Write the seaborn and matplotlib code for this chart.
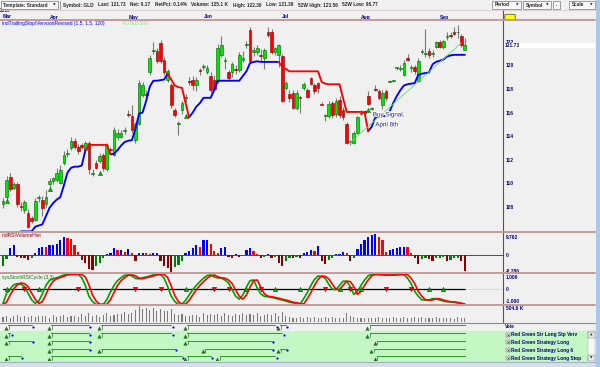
import numpy as np
import pandas as pd
import matplotlib
matplotlib.use("Agg")
import matplotlib.pyplot as plt
import matplotlib.transforms as mtrans
import matplotlib.patheffects as pe
from matplotlib.patches import Rectangle, FancyBboxPatch
from matplotlib.lines import Line2D
import seaborn as sns

sns.set_style("white")
FONT = ['Liberation Sans', 'DejaVu Sans']
plt.rcParams['font.family'] = FONT

# --- datos ---
open_ = [108.2,108.8,110.5,109.6,109.9,108.1,107.7,107.5,107.0,106.9,
         108.7,108.6,108.2,109.9,110.2,110.3,110.0,111.7,112.5,113.0,
         113.6,113.1,113.2,112.8,113.4,110.8,111.7,111.9,112.4,111.2,
         112.9,112.4,113.9,113.9,114.4,115.9,115.7,113.7,115.0,117.5,
         117.6,119.4,121.2,121.2,121.9,120.5,118.8,118.3,116.2,115.0,
         116.2,117.2,118.7,118.8,118.3,119.6,119.9,119.4,119.1,118.8,
         118.7,120.9,120.4,119.4,119.4,119.7,119.6,120.5,121.7,123.0,
         121.1,121.1,120.9,120.6,122.8,122.8,121.1,120.9,120.8,118.1,
         117.6,117.7,116.4,117.3,118.1,117.9,118.9,118.3,118.5,116.7,
         115.7,115.7,116.8,115.9,117.1,116.2,115.0,113.5,113.4,114.3,
         115.9,116.1,117.4,116.3,118.0,117.8,116.6,117.8,118.6,118.7,
         119.8,119.7,119.2,120.6,119.8,119.9,118.7,121.1,121.0,121.2,
         121.0,121.6,122.0,121.6,122.4,122.6,122.8,122.8,122.5,121.3]
high = [108.7,110.6,110.9,110.1,110.1,108.4,108.6,107.8,107.2,108.7,
        109.0,108.9,109.4,110.4,110.5,111.3,111.5,112.7,112.9,113.9,
        113.8,113.3,113.4,113.6,113.6,111.2,112.0,112.6,112.6,113.4,
        113.1,114.8,114.6,114.5,114.8,116.2,116.6,115.2,118.8,118.6,
        117.9,120.9,122.0,121.5,122.2,120.7,119.7,118.5,116.4,115.3,
        117.0,117.6,119.0,119.1,119.0,119.8,120.1,120.0,119.4,119.2,
        121.8,122.5,120.7,119.6,120.3,120.0,121.1,121.2,122.1,123.3,
        121.6,121.7,121.4,121.5,123.3,123.1,121.6,121.8,121.0,118.7,
        117.9,117.9,117.9,117.4,118.6,118.1,119.0,118.5,118.6,116.9,
        115.9,117.0,117.0,117.2,117.4,116.5,115.2,113.7,114.4,115.7,
        116.2,116.2,117.8,116.5,118.3,118.0,117.9,118.0,118.8,118.8,
        119.9,120.0,120.5,121.0,120.0,120.0,120.6,121.4,123.1,121.5,
        121.3,122.1,122.2,122.2,122.8,122.8,123.3,123.4,122.7,122.3]
low = [107.9,108.6,109.3,109.4,108.0,107.6,107.5,106.2,106.6,106.8,
       108.4,107.2,108.0,109.7,109.9,110.1,109.9,111.5,112.2,112.8,
       112.9,112.5,112.9,112.6,110.8,110.6,111.2,111.7,111.0,111.0,
       112.6,112.3,113.7,113.8,114.2,115.6,114.3,113.4,114.9,117.3,
       117.0,119.2,121.0,120.2,120.2,119.2,118.6,116.4,115.6,114.1,
       115.9,116.9,118.3,117.9,117.8,119.2,119.6,119.3,117.7,117.8,
       118.5,120.7,119.7,118.7,119.0,119.3,119.4,120.3,121.5,120.2,
       120.8,120.9,120.3,119.7,122.4,121.0,120.9,119.9,116.9,117.9,
       116.9,116.3,116.2,116.0,117.9,117.2,118.3,117.6,117.7,116.6,
       115.3,115.5,115.5,115.6,115.5,115.4,113.3,113.2,113.3,114.2,
       115.8,115.8,116.6,116.2,117.8,117.1,116.3,117.0,118.6,118.6,
       119.6,119.5,119.1,120.4,119.4,119.3,118.6,121.0,120.7,120.6,
       120.7,121.5,121.5,121.4,122.2,122.3,122.6,122.3,121.6,121.39]
close = [108.5,110.3,109.5,109.9,108.2,108.0,108.4,106.3,106.8,108.5,
         108.8,107.9,108.8,110.2,110.4,110.9,111.1,112.4,112.6,113.6,
         113.1,112.7,113.1,113.4,111.2,110.9,111.3,112.3,111.3,113.2,
         112.8,114.5,114.3,114.3,114.5,115.8,114.5,115.0,118.5,118.3,
         117.5,120.6,121.3,120.4,120.4,119.4,119.5,116.6,115.8,115.1,
         116.8,117.3,118.6,118.3,118.8,119.5,119.9,119.8,117.9,118.0,
         121.5,121.7,120.5,118.9,120.1,119.6,120.9,120.6,121.8,120.4,
         121.3,121.5,120.8,121.3,122.6,121.1,121.5,121.7,117.0,118.5,
         117.2,116.4,117.7,117.2,118.4,117.3,118.4,117.8,118.1,116.6,
         115.8,116.7,115.8,117.0,115.8,115.6,113.4,113.6,114.3,115.6,
         116.0,116.0,116.7,116.4,117.9,117.2,117.7,117.2,118.7,118.7,
         119.8,119.8,120.2,120.5,119.8,119.5,120.4,121.2,121.0,120.9,
         121.0,122.0,121.6,122.1,122.4,122.5,122.7,122.8,121.7,121.73]

# trailing stop (L = largo/azul, S = corto/rojo)
stop = ([np.nan] * 5 +
        [105.9,105.9,105.9,105.9,106.3,106.4,106.5,107.2,107.9,108.3,108.6,108.8,109.8,110.9,111.3,111.4,111.4,111.5,112.8] +
        [113.25] * 6 + [112.45] +
        [112.5,112.8,113.2,113.5,113.6,113.65,114.6,115.9,116.0,117.0,118.2,118.7,118.7,118.75,118.8,119.3] +
        [118.8,118.3,118.15,118.1,116.8,115.6] +
        [116.0,116.5,116.8,117.25,117.25,117.25,117.9] + [118.7] * 7 + [119.1,119.5,120.2,120.3,120.35] + [120.3] * 6 +
        [119.9,119.7] + [119.5] * 9 + [118.6,118.45] + [118.4] * 4 + [117.2] + [116.05] * 5 + [116.0,114.4] +
        [114.8,115.6,115.65,115.7,115.7,116.1,116.8,117.4,117.9,118.3,118.4,118.45,118.5,119.2,119.3,119.35,119.4,
         120.1,120.3,120.4,120.5,120.75,120.85,120.9,120.9,120.9,120.9])
stop_side = "L" * 24 + "S" * 7 + "L" * 16 + "S" * 6 + "L" * 25 + "S" * 25 + "L" * 27

signal_bars = [1, 13, 27, 51, 102]
signal_price = [108.5, 109.5, 110.9, 115.7, 116.2]
trend_bars = [97, 128]
trend_price = [113.45, 121.9]

rsi_hist = [-6.0,-2.0,3.7,5.1,-1.0,-1.4,-1.7,-2.6,-1.7,0.9,
            3.7,4.3,4.2,5.1,5.5,6.0,7.7,9.7,8.9,8.5,
            5.1,1.7,-2.6,-4.3,-7.7,-7.9,-6.0,-4.3,-1.7,0.3,
            1.0,3.7,2.6,2.8,1.7,3.1,0.9,-3.1,0.9,1.0,
            0.8,0.5,0.9,1.0,-3.1,-6.0,-6.8,-9.4,-6.5,-5.1,
            -3.1,0.9,2.1,3.7,5.1,4.3,7.7,7.8,6.0,2.1,
            0.9,3.7,4.3,-0.9,-1.7,0.6,-0.9,-0.5,2.6,3.7,
            2.1,0.6,-1.7,-0.9,0.4,-1.4,-0.9,-4.3,-6.0,-3.4,
            -1.4,-1.5,-0.9,-1.4,0.9,1.4,2.6,2.1,4.8,-3.4,
            -4.8,-2.6,-1.4,0.6,0.7,1.7,1.2,-3.1,-1.7,3.4,
            6.0,7.7,9.7,10.6,11.1,9.4,7.7,1.7,2.6,3.1,
            3.7,4.3,4.4,4.2,0.9,-1.7,-4.8,-2.1,-1.7,-1.9,
            -3.1,-1.7,-1.4,-0.9,-3.1,-2.5,-1.7,-1.4,-3.4,-8.3]

stoch_fast = [-1.2,-0.36,0.0,0.35,0.45,0.4,0.2,-0.35,-0.9,-1.19,
              -1.0,-0.4,0.3,0.72,0.85,0.94,1.05,1.17,1.22,1.22,
              1.22,1.22,0.95,0.3,-0.6,-1.05,-1.28,-1.28,-1.28,-0.9,
              -0.25,0.3,0.7,0.95,1.15,1.17,1.1,0.88,0.85,0.94,
              1.0,1.08,1.18,1.22,1.22,0.9,0.2,-0.6,-1.05,-1.28,
              -1.25,-0.95,-0.5,-0.05,0.3,0.61,0.9,1.12,1.17,1.0,
              0.92,0.9,0.75,0.5,-0.05,-0.6,-0.85,-0.5,0.15,0.7,
              0.75,0.1,-0.4,-0.62,-0.64,-0.7,-0.77,-0.85,-0.92,-1.0,
              -1.1,-1.15,-1.22,-1.25,-0.8,-0.3,0.3,0.8,1.08,1.05,
              0.89,0.4,-0.02,-0.05,0.3,0.65,0.65,0.2,-0.45,-0.2,
              0.3,0.75,1.1,1.22,1.22,1.2,1.18,1.17,1.15,1.17,
              1.2,1.22,1.2,0.9,0.45,-0.2,-0.6,-0.9,-0.93,-0.92,
              -0.8,-0.82,-0.92,-1.0,-1.06,-1.08,-1.1,-1.15,-1.22,-1.28]
stoch_slow = [-1.28,-1.1,-0.5,0.0,0.35,0.5,0.45,0.2,-0.35,-0.85,
              -1.2,-1.05,-0.45,0.2,0.65,0.85,0.95,1.05,1.18,1.22,
              1.22,1.22,1.22,1.0,0.35,-0.5,-1.0,-1.28,-1.28,-1.28,
              -0.9,-0.3,0.3,0.7,0.95,1.15,1.17,1.1,0.9,0.85,
              0.94,1.0,1.08,1.18,1.22,1.22,0.95,0.25,-0.55,-1.05,
              -1.28,-1.25,-0.95,-0.5,-0.05,0.3,0.6,0.9,1.1,1.17,
              1.02,0.93,0.9,0.75,0.45,-0.1,-0.6,-0.85,-0.5,0.15,
              0.7,0.75,0.15,-0.4,-0.6,-0.64,-0.7,-0.77,-0.85,-0.92,
              -1.0,-1.1,-1.15,-1.22,-1.25,-0.8,-0.3,0.3,0.8,1.08,
              1.05,0.85,0.4,-0.02,-0.05,0.3,0.65,0.62,0.2,-0.45,
              -0.2,0.3,0.75,1.1,1.22,1.22,1.2,1.18,1.17,1.15,
              1.17,1.2,1.22,1.2,0.9,0.45,-0.2,-0.6,-0.9,-0.93,
              -0.92,-0.8,-0.82,-0.92,-1.0,-1.06,-1.08,-1.12,-1.18,-1.25]
cross_up = [1, 10, 51, 68, 76, 83, 94, 100, 119, 123]
cross_down = [6, 21, 37, 44, 59, 63, 72, 90, 97, 107, 114]

volume_k = [180,220,150,200,260,170,210,190,230,170,
            200,230,210,160,260,190,210,240,180,200,
            220,170,280,200,330,200,250,180,240,330,
            220,260,300,280,370,300,330,420,560,480,
            520,430,520,390,470,410,380,470,300,250,
            280,220,200,260,250,190,330,270,300,250,
            290,230,330,270,210,290,240,330,250,300,
            270,330,220,260,280,240,310,200,360,230,
            170,150,150,170,150,190,150,170,150,140,
            180,150,170,160,130,150,330,200,170,160,
            150,140,160,130,150,170,150,160,140,180,
            160,150,170,140,160,190,150,180,160,140,
            150,170,130,160,150,140,120,170,150,160]

month_names = ["Mar", "Apr", "May", "Jun", "Jul", "Aug", "Sep"]
month_bars = [0, 13, 35, 56, 78, 100, 122]

vote_rows = ["Vote", "Red Green Str Long Stp Verv", "Red Green Strategy Long",
             "Red Green Strategy Long 6", "Red Green Strategy Long Stop"]
trades = [
    [(1, 8), (13, 24), (27, 47), (51, 76), (77, 79), (102, None)],
    [(1, 2), (13, 24), (27, 47), (51, 78), (102, None)],
    [(1, 8), (13, 24), (51, 75), (104, None)],
    [(13, 24), (27, 48), (56, 75), (77, 79), (103, None)],
    [(1, 5), (13, 50), (51, 58), (60, 76), (104, None)],
]

header_items = ["Symbol: GLD", "Last: 121.73", "Net: 0.17", "NetPct: 0.14%", "Volume: 125.1 K",
                "High: 122.30", "Low: 121.39", "52W High: 123.56", "52W Low: 96.77"]

# --- figura ---
W, H = 600, 367
BG = '#f0f0f0'
NAVY = '#000080'
SMALL = 3.4
fig = plt.figure(figsize=(6, 3.67), dpi=100, facecolor=BG)
renderer = fig.canvas.get_renderer()


def frac(x0, y0, x1, y1):
    return [x0 / W, 1 - y1 / H, (x1 - x0) / W, (y1 - y0) / H]


def bar_lim(px_right):
    return (-3 / 3.58, (px_right - 3) / 3.58)


def ftext(x, y, s, **kw):
    kw.setdefault('va', 'center')
    return fig.text(x / W, 1 - y / H, s, **kw)


def frect(x0, y0, x1, y1, **kw):
    fig.add_artist(Rectangle((x0 / W, 1 - y1 / H), (x1 - x0) / W, (y1 - y0) / H,
                             transform=fig.transFigure, **kw))


def fline(x0, y0, x1, y1, **kw):
    fig.add_artist(Line2D([x0 / W, x1 / W], [1 - y0 / H, 1 - y1 / H],
                          transform=fig.transFigure, **kw))


def right_ticks(ax, vals, labels):
    ax.yaxis.tick_right()
    ax.set_yticks(vals)
    ax.set_yticklabels(labels, fontweight='bold')
    ax.tick_params(axis='y', length=0, pad=2.0, labelsize=3.5, labelcolor=NAVY)


ax_h = fig.add_axes(frac(0, 10, 503, 20))
ax_p = fig.add_axes(frac(0, 20, 503, 232))
ax_r = fig.add_axes(frac(0, 232, 503, 273))
ax_s = fig.add_axes(frac(0, 273, 503, 305))
ax_v = fig.add_axes(frac(0, 305, 503, 322))
ax_vote = fig.add_axes(frac(0, 323, 588, 361))

bars = np.arange(len(close))
o, c = np.array(open_), np.array(close)

# velas
up = c >= o
ax_p.vlines(bars, low, high, color='#7a7a7a', lw=0.8, zorder=2)
ax_p.bar(bars, np.maximum(np.abs(c - o), 0.07), bottom=np.minimum(o, c), width=0.75,
         color=np.where(up, '#00e600', '#ff0000'), edgecolor=np.where(up, '#006000', '#800000'),
         linewidth=0.4, zorder=3)

# trailing stop, color según lado
sdf = pd.DataFrame({'bar': bars, 'stop': stop, 'side': list(stop_side)})
run = (sdf['side'] != sdf['side'].shift()).cumsum()
pieces = []
for r, g in sdf.groupby(run):
    first = g.index[0]
    if first > 0:
        g = pd.concat([sdf.loc[[first - 1]].assign(side=g['side'].iloc[0]), g])
    pieces.append(g.assign(run=r))
seg = pd.concat(pieces).dropna()
sns.lineplot(data=seg, x='bar', y='stop', hue='side', units='run', estimator=None,
             palette={'L': '#0000ff', 'S': '#ff0000'}, lw=1.35, legend=False, ax=ax_p, zorder=4)
sns.lineplot(x=trend_bars, y=trend_price, color='#66dd66', lw=0.6, ax=ax_p, zorder=4)
ax_p.plot(signal_bars, signal_price, '^', ms=3, color='#00b000', mec='#004000', mew=0.3, zorder=5)
halo = [pe.withStroke(linewidth=1.2, foreground='white')]
ax_p.text(103.3, 115.8, "Buy Signal,", fontsize=4.5, color='#1a1a80', va='center', path_effects=halo, zorder=6)
ax_p.text(104.0, 114.95, "April 8th", fontsize=4.5, color='#1a1a80', va='center', path_effects=halo, zorder=6)
ax_p.text(0.004, 0.983, "indTrailingStop/VervoortRevised (1.5, 1.5, 120)", transform=ax_p.transAxes,
          fontsize=3.5, color='#0000ff', va='center')
ax_p.text(122 / 503, 0.983, "VOTED SIG", transform=ax_p.transAxes, fontsize=3.5, color='#7fe07f', va='center')
ax_p.set_ylim(105.85, 123.86)
right_ticks(ax_p, list(range(108, 123, 2)), [str(v) for v in range(108, 123, 2)])

# histograma RSI volumen
hist_col = []
for k, v in enumerate(rsi_hist):
    prev = rsi_hist[k - 1] if k else v
    if v >= 0:
        hist_col.append('#0000ff' if v >= prev else '#ff0000')
    else:
        hist_col.append('#008000' if v >= prev else '#8b0000')
ax_r.axhline(0, color='#ff0000', lw=0.7, zorder=1)
ax_r.bar(bars, rsi_hist, width=0.62, color=hist_col, linewidth=0, antialiased=False, zorder=2)
ax_r.set_ylim(-9.6, 12.2)
ax_r.text(0.004, 0.92, "indRSIVolumeHist", transform=ax_r.transAxes, fontsize=3.5, color='#800000', va='center')
right_ticks(ax_r, [9.762, 0, -8.286], ["9.762", "0", "-8.286"])

# stoch RSI
ax_s.plot([0, bars[-1]], [0, 0], color='black', lw=0.9, zorder=1)
ax_s.plot([bars[-1], bar_lim(503)[1]], [0, 0], color='#b0b0b0', lw=0.6, ls=':', zorder=1)
sns.lineplot(x=bars, y=stoch_fast, color='#00a000', lw=1.2, ax=ax_s, zorder=2)
sns.lineplot(x=bars, y=stoch_slow, color='#ff0000', lw=1.2, ax=ax_s, zorder=3)
ax_s.plot(cross_up, [0] * len(cross_up), '^', ms=3.2, color='#00b000', mec='#004000', mew=0.3, zorder=4)
ax_s.plot(cross_down, [0] * len(cross_down), 'v', ms=3.2, color='#ff0000', mec='#600000', mew=0.3, zorder=4)
ax_s.set_ylim(-1.333, 1.333)
ax_s.text(0.004, 0.86, "sysStochRSICycle (3,3)", transform=ax_s.transAxes, fontsize=3.5, color='#008000', va='center')
right_ticks(ax_s, [1, 0, -1], ["1.000", "0", "-1.000"])

# volumen
ax_v.bar(bars, volume_k, width=0.3, color='#7a7a7a', linewidth=0, antialiased=False)
ax_v.set_ylim(0, 613)
right_ticks(ax_v, [504.6], ["504.6 K"])

# meses
for name, b in zip(month_names, month_bars):
    ax_h.text(b, 0.3, name, fontsize=3.6, color=NAVY, fontweight='bold', va='center')
ax_h.text(0.0, 0.9, "2010", transform=ax_h.transAxes, fontsize=3.4, fontweight='bold', va='center')

for ax in (ax_h, ax_p, ax_r, ax_s, ax_v):
    ax.set_facecolor(BG)
    ax.set_xlim(*bar_lim(503))
    ax.set_xticks([])
    ax.set_xlabel('')
    ax.set_ylabel('')
    for sp in ax.spines.values():
        sp.set_visible(False)
ax_h.set_ylim(0, 1)
ax_h.set_yticks([])

# panel de votos / estrategias
ax_vote.set_facecolor(BG)
ax_vote.set_xlim(*bar_lim(588))
ax_vote.set_ylim(4.387, -0.516)
ax_vote.axis('off')
ax_vote.axhspan(0.477, 4.387, color='#c4f7c4', zorder=0)
last = bars[-1]
for k, rows in enumerate(trades):
    for ent, ex in rows:
        end = last if ex is None else ex
        ax_vote.plot([ent + 0.5, end], [k - 0.2, k - 0.2], color='#2a9a2a', lw=0.7, zorder=2)
        ax_vote.plot([ent + 0.55, ent + 0.55], [k - 0.2, k + 0.25], color='#2a7a2a', lw=0.5, zorder=2)
        ax_vote.plot(ent - 0.2, k + 0.1, '^', ms=3, color='#1f6f1f', mew=0, zorder=3)
        if ex is not None:
            ax_vote.plot(ex + 0.4, k, 'o', ms=1.6, color='#0000ff', mew=0, zorder=3)
blend = mtrans.blended_transform_factory(fig.transFigure, ax_vote.transData)
for k, name in enumerate(vote_rows):
    if k == 0:
        ax_vote.text(505 / W, k, name, transform=blend, fontsize=SMALL, color=NAVY, fontweight='bold', va='center')
    else:
        ax_vote.plot(507.5 / W, k, 's', ms=2.4, mfc='#e8e8e8', mec='#606060', mew=0.3, transform=blend, clip_on=False)
        ax_vote.plot(507.5 / W, k, 'x', ms=1.5, color='#303030', mew=0.4, transform=blend, clip_on=False)
        ax_vote.text(511 / W, k, name, transform=blend, fontsize=SMALL, color=NAVY, fontweight='bold', va='center')

# marco, separadores, barra superior
fline(503, 10, 503, 322, color='#8b3a3a', lw=0.8)
for y in (20, 232, 273, 305):
    fline(0, y, 595, y, color='#c49a9a', lw=1.4)
fline(0, 323, 595, 323, color='#8c8c8c', lw=0.8)
fline(0, 9.8, 595, 9.8, color='#dcc4c4', lw=0.5)
frect(588, 331, 595, 361, facecolor='#f8f8f8', edgecolor='#a0a0a0', lw=0.3)
frect(588, 332, 595, 338, facecolor='#e8e8e8', edgecolor='#707070', lw=0.3)
frect(588, 355, 595, 361, facecolor='#e8e8e8', edgecolor='#707070', lw=0.3)
ftext(591.5, 335, "▲", fontsize=2.3, ha='center', family=['DejaVu Sans'])
ftext(591.5, 358, "▼", fontsize=2.3, ha='center', family=['DejaVu Sans'])
frect(0, 361, 596, 367, facecolor='#d6dee8', edgecolor='none')
fline(0, 361.5, 596, 361.5, color='#9aa8b8', lw=0.6)
frect(596, 0, 600, 367, facecolor='#a9c9ea', edgecolor='none')

# valor actual resaltado
frect(503, 42.8, 595, 48.0, facecolor='white', edgecolor='none')
ftext(505, 45.4, "121.73", fontsize=3.5, color=NAVY, fontweight='bold')
fig.add_artist(FancyBboxPatch((506 / W, 1 - 19 / H), 8 / W, 4 / H, boxstyle="round,pad=0.002",
                              transform=fig.transFigure, facecolor='#ffff00', edgecolor='#404040', lw=0.5))

# barra de herramientas
frect(1, 1, 58, 9, facecolor='#f8f8f8', edgecolor='#7a7a7a', lw=0.5)
ftext(3, 5, "Template: Standard", fontsize=SMALL, fontweight='bold')
ftext(54.5, 5, "▼", fontsize=2.4, ha='center', family=['DejaVu Sans'])
fline(60, 1, 60, 9, color='#7a7a7a', lw=0.5)
x = 63
for s in header_items:
    t = ftext(x, 5, s, fontsize=SMALL, fontweight='bold')
    x += t.get_window_extent(renderer).width + 4.5
for x0, x1, s in [(492, 521, "Period"), (523, 551, "Symbol"), (569, 595, "Scale")]:
    frect(x0, 1, x1, 9, facecolor='#f8f8f8', edgecolor='#7a7a7a', lw=0.5)
    ftext(x0 + 3, 5, s, fontsize=SMALL, fontweight='bold')
    ftext(x1 - 3.5, 5, "▼", fontsize=2.4, ha='center', family=['DejaVu Sans'])
frect(553, 1, 560, 9, facecolor='#f8f8f8', edgecolor='#7a7a7a', lw=0.5)
ftext(556.5, 5, ".", fontsize=SMALL, ha='center', fontweight='bold')

fig.savefig("out.png", dpi=100, facecolor=fig.get_facecolor())
